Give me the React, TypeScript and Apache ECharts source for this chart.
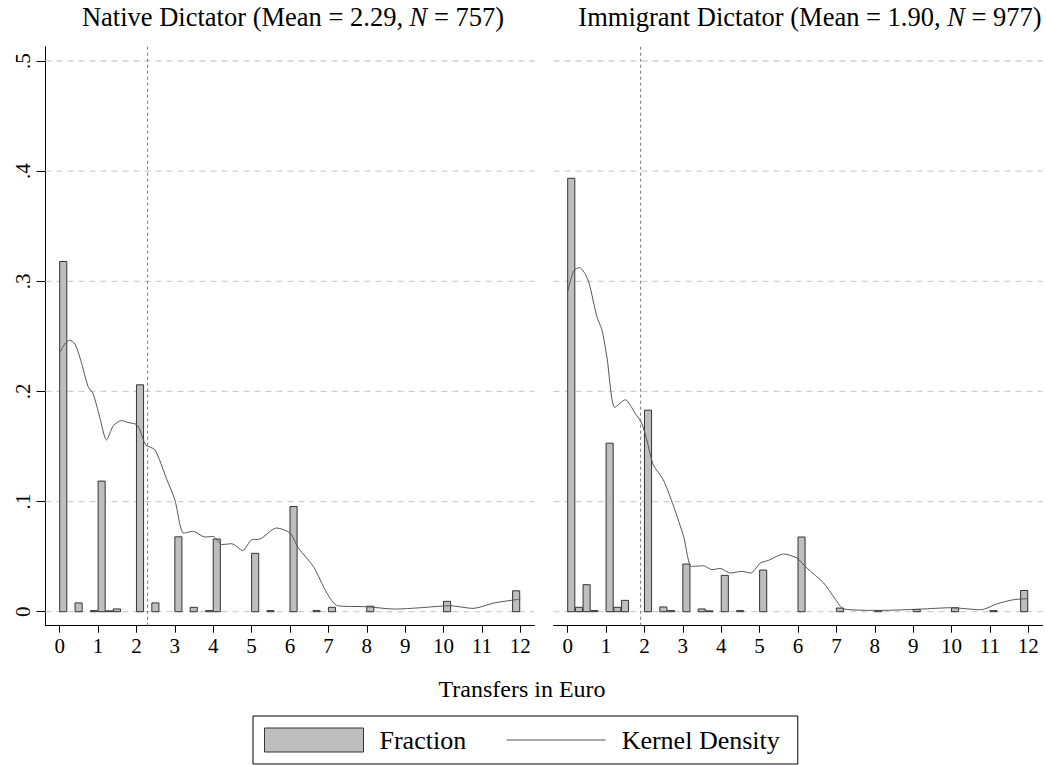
import React, { useEffect, useRef } from "react";
import * as echarts from "echarts";

// ---------- data ----------
const X_TICKS = [0, 1, 2, 3, 4, 5, 6, 7, 8, 9, 10, 11, 12];
const Y_TICKS = [0, 0.1, 0.2, 0.3, 0.4, 0.5];
const Y_TICK_LABELS = ["0", ".1", ".2", ".3", ".4", ".5"];

const MEANS = [2.29, 1.9];
const NS = [757, 977];
const PANEL_NAMES = ["Native Dictator", "Immigrant Dictator"];
const MEAN_LABELS = ["2.29", "1.90"];

// histogram: bin start (euro) and fraction
const NATIVE_BINS = [0, 0.4, 0.8, 1.0, 1.2, 1.4, 2.0, 2.4, 3.0, 3.4, 3.8, 4.0, 5.0, 5.4, 6.0, 6.6, 7.0, 8.0, 10.0, 11.8];
const NATIVE_FRAC = [0.318, 0.008, 0.001, 0.1186, 0.0008, 0.0025, 0.206, 0.008, 0.068, 0.004, 0.001, 0.066, 0.053, 0.001, 0.0955, 0.001, 0.004, 0.005, 0.0094, 0.019];

const IMMIG_BINS = [0, 0.2, 0.4, 0.6, 1.0, 1.2, 1.4, 2.0, 2.4, 2.6, 3.0, 3.4, 3.6, 4.0, 4.4, 5.0, 6.0, 7.0, 8.0, 9.0, 10.0, 11.0, 11.8];
const IMMIG_FRAC = [0.3935, 0.004, 0.0245, 0.001, 0.153, 0.004, 0.0103, 0.183, 0.0043, 0.001, 0.0433, 0.0025, 0.0008, 0.033, 0.001, 0.0378, 0.0678, 0.0033, 0.001, 0.002, 0.0036, 0.001, 0.0193];

// kernel density (as drawn)
const NATIVE_KD_X = [0, 0.13, 0.26, 0.4, 0.55, 0.74, 0.87, 1.04, 1.22, 1.4, 1.61, 1.78, 2.0, 2.09, 2.24, 2.48, 2.78, 3.0, 3.23, 3.48, 3.78, 4.0, 4.22, 4.48, 4.77, 5.0, 5.22, 5.65, 6.0, 6.22, 6.61, 6.96, 7.24, 8.0, 8.74, 9.39, 10.17, 10.77, 11.31, 11.9, 12];
const NATIVE_KD_Y = [0.235, 0.243, 0.2465, 0.243, 0.228, 0.2045, 0.198, 0.177, 0.156, 0.169, 0.1736, 0.1718, 0.17, 0.165, 0.1515, 0.147, 0.121, 0.1016, 0.0714, 0.0729, 0.0678, 0.0683, 0.061, 0.0617, 0.0556, 0.0653, 0.066, 0.076, 0.0714, 0.0578, 0.041, 0.017, 0.0054, 0.0045, 0.0024, 0.0036, 0.0054, 0.003, 0.0079, 0.011, 0.0114];

const IMMIG_KD_X = [0, 0.15, 0.3, 0.45, 0.56, 0.76, 0.89, 1.02, 1.23, 1.5, 1.76, 1.93, 2.06, 2.23, 2.49, 2.76, 3.02, 3.23, 3.54, 3.76, 3.97, 4.24, 4.54, 4.77, 5.02, 5.23, 5.63, 5.97, 6.23, 6.67, 6.98, 7.2, 8.15, 9.2, 9.98, 10.76, 11.2, 11.63, 12];
const IMMIG_KD_Y = [0.2907, 0.309, 0.3125, 0.307, 0.298, 0.268, 0.256, 0.2317, 0.1854, 0.1924, 0.18, 0.171, 0.156, 0.1334, 0.1198, 0.0956, 0.0683, 0.0411, 0.0417, 0.0381, 0.0393, 0.0351, 0.0366, 0.0351, 0.0442, 0.0466, 0.0524, 0.0487, 0.0397, 0.026, 0.011, 0.0024, 0.0012, 0.0024, 0.0036, 0.0018, 0.0073, 0.011, 0.0118];

// ---------- layout / style ----------
const X_MIN = -0.37;
const X_MAX = 12.37;
const Y_MIN = -0.0127;
const Y_MAX = 0.513;
const BAR_W = 0.185;
const FONT = "'Liberation Serif', 'Times New Roman', serif";
const BAR_FILL = "#bebebe";
const BAR_EDGE = "#333333";
const KD_COLOR = "#555555";

export default function App() {
  const ref = useRef<HTMLDivElement>(null);

  useEffect(() => {
    document.body.style.margin = "0";
    if (!ref.current) return;
    const chart = echarts.init(ref.current, null, { renderer: "svg" });

    const grids = [
      { left: 45.5, top: 46.7, width: 489, height: 579 },
      { left: 553.5, top: 46.7, width: 489, height: 579 },
    ];

    const xAxes = [0, 1].map((i) => ({
      type: "value",
      gridIndex: i,
      min: X_MIN,
      max: X_MAX,
      axisLine: { show: true, onZero: false, lineStyle: { color: "#000", width: 1 } },
      axisTick: { show: true, customValues: X_TICKS, length: 7, lineStyle: { color: "#000", width: 1 } },
      axisLabel: {
        show: true,
        customValues: X_TICKS,
        color: "#000",
        fontFamily: FONT,
        fontSize: 21,
        margin: 10,
      },
      splitLine: { show: false },
    }));

    const yAxes = [0, 1].map((i) => ({
      type: "value",
      gridIndex: i,
      min: Y_MIN,
      max: Y_MAX,
      axisLine: { show: i === 0, onZero: false, lineStyle: { color: "#000", width: 1 } },
      axisTick: { show: i === 0, customValues: Y_TICKS, length: 9, lineStyle: { color: "#000", width: 1 } },
      axisLabel: {
        show: i === 0,
        customValues: Y_TICKS,
        rotate: 90,
        color: "#000",
        fontFamily: FONT,
        fontSize: 21,
        margin: 12,
        formatter: (v: number) => {
          const idx = Y_TICKS.findIndex((t) => Math.abs(t - v) < 1e-9);
          return idx >= 0 ? Y_TICK_LABELS[idx] : "";
        },
      },
      splitLine: { show: false },
    }));

    const bins = [NATIVE_BINS, IMMIG_BINS];
    const fracs = [NATIVE_FRAC, IMMIG_FRAC];
    const kdx = [NATIVE_KD_X, IMMIG_KD_X];
    const kdy = [NATIVE_KD_Y, IMMIG_KD_Y];

    const series: any[] = [];
    [0, 1].forEach((i) => {
      // gridlines
      series.push({
        type: "custom",
        xAxisIndex: i,
        yAxisIndex: i,
        z: 1,
        silent: true,
        data: Y_TICKS.map((v) => [0, v]),
        encode: { x: 0, y: 1 },
        renderItem: (_p: any, api: any) => {
          const v = api.value(1);
          const a = api.coord([X_MIN, v]);
          const b = api.coord([X_MAX, v]);
          return {
            type: "line",
            shape: { x1: a[0], y1: a[1], x2: b[0], y2: b[1] },
            style: { stroke: "#cfcfcf", lineWidth: 1.3, lineDash: [6, 5] },
          };
        },
      });
      // histogram bars
      series.push({
        type: "custom",
        name: "Fraction",
        xAxisIndex: i,
        yAxisIndex: i,
        z: 2,
        itemStyle: { color: BAR_FILL, borderColor: BAR_EDGE },
        data: bins[i].map((b, k) => [b, fracs[i][k]]),
        encode: { x: 0, y: 1 },
        renderItem: (_p: any, api: any) => {
          const x = api.value(0);
          const y = api.value(1);
          const tl = api.coord([x, y]);
          const br = api.coord([x + BAR_W, 0]);
          return {
            type: "rect",
            shape: { x: tl[0], y: tl[1], width: br[0] - tl[0], height: br[1] - tl[1] },
            style: { fill: BAR_FILL, stroke: BAR_EDGE, lineWidth: 1 },
          };
        },
      });
      // kernel density
      series.push({
        type: "line",
        name: "Kernel Density",
        xAxisIndex: i,
        yAxisIndex: i,
        z: 3,
        smooth: 0.25,
        symbol: "none",
        showSymbol: false,
        lineStyle: { color: KD_COLOR, width: 1 },
        itemStyle: { color: KD_COLOR },
        data: kdx[i].map((x, k) => [x, kdy[i][k]]),
      });
      // mean line
      series.push({
        type: "custom",
        xAxisIndex: i,
        yAxisIndex: i,
        z: 3,
        silent: true,
        data: [[MEANS[i], 0]],
        encode: { x: 0, y: 1 },
        renderItem: (_p: any, api: any) => {
          const m = api.value(0);
          const a = api.coord([m, Y_MIN]);
          const b = api.coord([m, Y_MAX]);
          return {
            type: "line",
            shape: { x1: a[0], y1: a[1], x2: b[0], y2: b[1] },
            style: { stroke: "#777777", lineWidth: 1, lineDash: [3, 3] },
          };
        },
      });
    });

    const titleRich = {
      a: { fontFamily: FONT, fontSize: 26.5, fontWeight: "normal", color: "#000" },
      i: { fontFamily: FONT, fontSize: 26.5, fontWeight: "normal", color: "#000", fontStyle: "italic" },
    };
    const titleCenters = [293, 810];

    const option: any = {
      animation: false,
      backgroundColor: "#ffffff",
      title: [
        ...[0, 1].map((i) => ({
          text: `{a|${PANEL_NAMES[i]} (Mean = ${MEAN_LABELS[i]}, }{i|N}{a| = ${NS[i]})}`,
          left: titleCenters[i],
          textAlign: "center",
          top: 3,
          padding: 0,
          textStyle: { fontWeight: "normal", rich: titleRich },
        })),
        {
          text: "Transfers in Euro",
          left: 522,
          textAlign: "center",
          top: 677,
          padding: 0,
          textStyle: { fontFamily: FONT, fontSize: 24, fontWeight: "normal", color: "#000" },
        },
      ],
      legend: {
        left: 253,
        top: 716,
        orient: "horizontal",
        padding: [11, 18, 11, 11],
        borderColor: "#000",
        borderWidth: 1,
        itemWidth: 99,
        itemHeight: 24,
        itemGap: 40,
        selectedMode: false,
        textStyle: { fontFamily: FONT, fontSize: 26, color: "#000", padding: [0, 0, 0, 11] },
        data: [
          { name: "Fraction", icon: "rect", itemStyle: { color: BAR_FILL, borderColor: BAR_EDGE, borderWidth: 1 } },
          {
            name: "Kernel Density",
            itemStyle: { color: "rgba(0,0,0,0)", borderWidth: 0, opacity: 0 },
            lineStyle: { color: KD_COLOR, width: 1 },
          },
        ],
      },
      grid: grids,
      xAxis: xAxes,
      yAxis: yAxes,
      series,
    };

    chart.setOption(option);
    return () => chart.dispose();
  }, []);

  return <div ref={ref} style={{ width: 1046, height: 765 }} />;
}
